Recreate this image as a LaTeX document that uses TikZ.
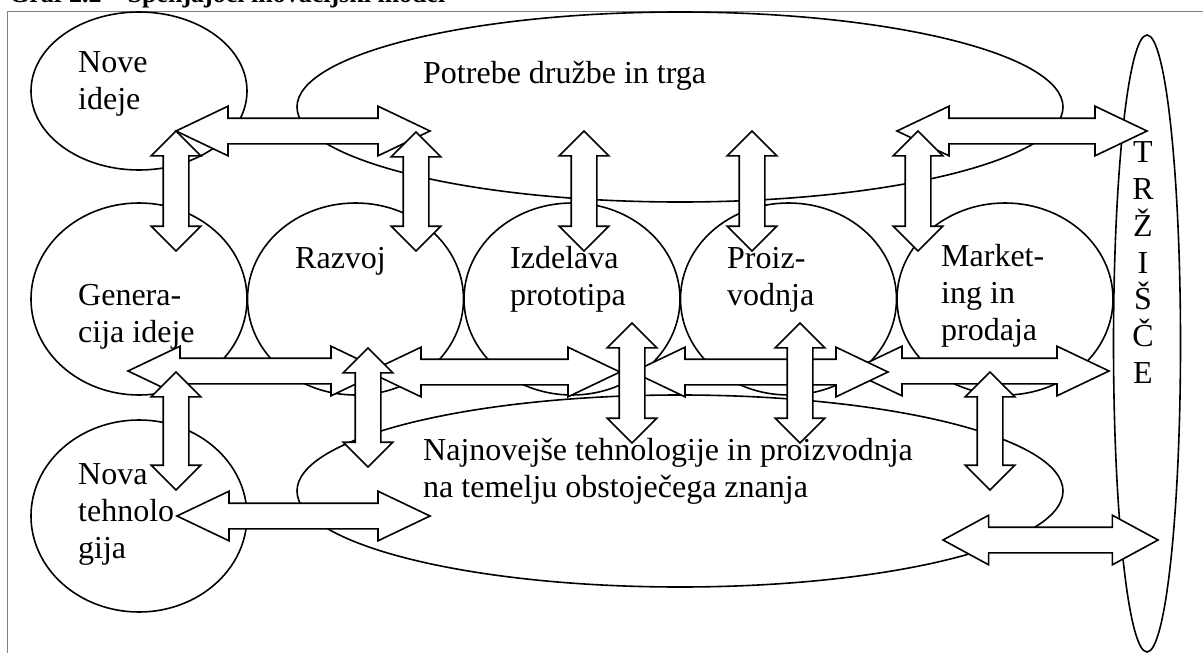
\documentclass[tikz,border=0pt]{standalone}
\usepackage{fontspec}
\setmainfont{Liberation Serif}
\usetikzlibrary{shapes.geometric,shapes.arrows}

\begin{document}
\begin{tikzpicture}[
x=1pt,
y=-1pt,
every node/.style={font=\fontsize{32}{36.8}\selectfont},
oval/.style={ellipse,draw,line width=1.6pt,inner sep=0pt},
lbl/.style={align=left,inner sep=0pt,anchor=base west},
harr/.style={double arrow,draw,fill=white,line width=1.6pt,inner xsep=0pt,inner ysep=12pt,double arrow head extend=12pt,double arrow tip angle=51},
varr/.style={harr,rotate=90,double arrow tip angle=90}
]
\useasboundingbox (0,0) rectangle (1203,653);
\clip (0,0) rectangle (1203,653);

\node[anchor=base west,inner sep=0pt,font=\fontsize{26}{30}\selectfont\bfseries] (title) at (9,2) {Graf 2.2 – Spenjajoči inovacijski model};
\draw[gray,line width=1pt] (7.5,11.5) rectangle (1260,700);

% ovals
\node[oval,minimum width=216pt,minimum height=158pt] (nove) at (139,91) {};
\node[oval,minimum width=766pt,minimum height=190pt] (potrebe) at (680,107) {};
\node[oval,minimum width=216pt,minimum height=192pt] (generacija) at (139,299) {};
\node[oval,minimum width=216pt,minimum height=192pt] (razvoj) at (355.5,299) {};
\node[oval,minimum width=216pt,minimum height=192pt] (izdelava) at (572,299) {};
\node[oval,minimum width=216pt,minimum height=192pt] (proizvodnja) at (788.5,299) {};
\node[oval,minimum width=216pt,minimum height=192pt] (marketing) at (1005,299) {};
\node[oval,minimum width=216pt,minimum height=192pt] (tehnologija) at (139,516) {};
\node[oval,minimum width=766pt,minimum height=192pt] (najnovejse) at (680,491) {};
\node[oval,minimum width=67pt,minimum height=617pt] (trzisce) at (1147,343.5) {};

% labels (anchored at the last line)
\node[lbl] (nove-t) at (78,109) {Nove\\ideje};
\node[lbl] (potrebe-t) at (423,83) {Potrebe družbe in trga};
\node[lbl] (generacija-t) at (78,342) {Genera-\\cija ideje};
\node[lbl] (razvoj-t) at (295,268) {Razvoj};
\node[lbl] (izdelava-t) at (510,305.5) {Izdelava\\prototipa};
\node[lbl] (proizvodnja-t) at (727,305.5) {Proiz-\\vodnja};
\node[lbl] (marketing-t) at (941,340.5) {Market-\\ing in\\prodaja};
\node[lbl] (tehnologija-t) at (78,558) {Nova\\tehnolo\\gija};
\node[lbl] (najnovejse-t) at (423,497) {Najnovejše tehnologije in proizvodnja\\na temelju obstoječega znanja};
\node[lbl,align=center,anchor=base] (trzisce-t) at (1143,383.5) {T\\R\\Ž\\I\\Š\\Č\\E};

% horizontal arrows
\node[harr,minimum height=254pt] (a-top1) at (303,131) {};
\node[harr,minimum height=250pt] (a-top2) at (1022,131) {};
\node[harr,minimum height=253pt] (a-bot1) at (303.5,516) {};
\node[harr,minimum height=215pt,double arrow tip angle=57] (a-bot2) at (1050.5,540) {};
\node[harr,minimum height=255pt] (a-mid1) at (255.5,371) {};
\node[harr,minimum height=251pt] (a-mid2) at (494.5,372) {};
\node[harr,minimum height=259pt] (a-mid4) at (979.5,371) {};
\node[harr,minimum height=255pt] (a-mid3) at (760.5,372) {};

% vertical arrows
\node[varr,minimum height=120pt] (v-nove) at (176,191) {};
\node[varr,minimum height=119pt] (v-razvoj) at (416,191.5) {};
\node[varr,minimum height=120pt] (v-izdelava) at (584,191) {};
\node[varr,minimum height=120pt] (v-proizvodnja) at (752,191) {};
\node[varr,minimum height=120pt] (v-marketing) at (918,191) {};
\node[varr,minimum height=118pt] (v-tehnologija) at (176,431) {};
\node[varr,minimum height=119pt] (v-najnovejse) at (368,407.5) {};
\node[varr,minimum height=120pt] (v-prototip) at (632,383) {};
\node[varr,minimum height=120pt] (v-proizvod) at (800,383) {};
\node[varr,minimum height=118pt] (v-prodaja) at (990,431) {};
\end{tikzpicture}
\end{document}
